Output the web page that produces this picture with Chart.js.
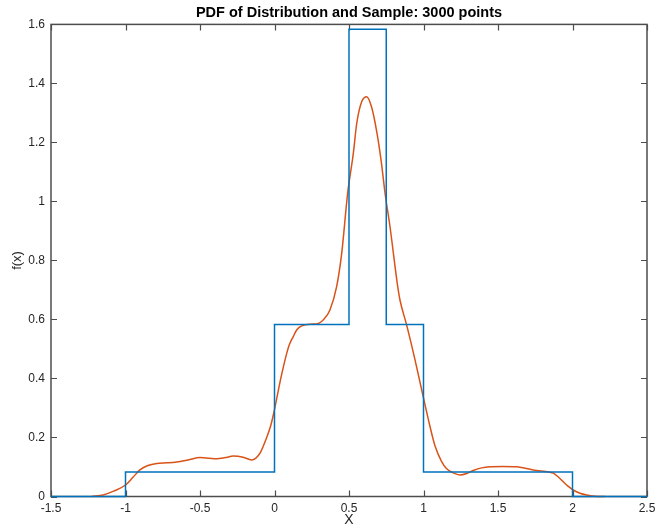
<!DOCTYPE html>
<html>
<head>
<meta charset="utf-8">
<script src="https://cdn.jsdelivr.net/npm/chart.js@4/dist/chart.umd.min.js"></script>
<style>
html,body{margin:0;padding:0;background:#fff;}
canvas{display:block;}
</style>
</head>
<body>
<canvas id="c" width="658" height="530"></canvas>
<script>
// True distribution: piecewise constant pdf (value holds from edge to next edge)
const pdfEdges  = [-1.5, -1, 0, 0.5, 0.75, 1, 2, 2.5];
const pdfValues = [0, 0.0833, 0.5833, 1.5833, 0.5833, 0.0833, 0, 0];

// Sample kernel density estimate
const kdeX = [-1.227,-1.15,-1.08,-1.0,-0.95,-0.903,-0.85,-0.79,-0.72,-0.657,-0.58,-0.5,-0.44,-0.388,-0.33,-0.277,-0.21,-0.153,-0.125,-0.097,-0.06,-0.027,-0.005,0.02,0.04,0.06,0.082,0.1,0.126,0.15,0.182,0.238,0.283,0.33,0.372,0.417,0.451,0.491,0.529,0.552,0.585,0.619,0.652,0.686,0.715,0.742,0.775,0.827,0.842,0.887,0.94,0.988,1.04,1.077,1.12,1.152,1.2,1.245,1.29,1.334,1.39,1.446,1.53,1.626,1.7,1.76,1.82,1.871,1.905,1.938,1.97,2.005,2.05,2.095,2.15,2.218];
const kdeY = [0,0.005,0.018,0.039,0.065,0.09,0.105,0.112,0.114,0.117,0.124,0.132,0.13,0.128,0.132,0.137,0.133,0.124,0.13,0.147,0.19,0.237,0.283,0.345,0.395,0.44,0.485,0.515,0.542,0.565,0.578,0.584,0.585,0.6,0.632,0.711,0.824,1.028,1.163,1.265,1.338,1.355,1.319,1.237,1.141,1.028,0.915,0.711,0.666,0.581,0.47,0.361,0.245,0.172,0.12,0.096,0.08,0.073,0.078,0.088,0.097,0.101,0.102,0.101,0.094,0.088,0.085,0.079,0.066,0.05,0.035,0.022,0.011,0.005,0.001,0];

const titleText = 'PDF of Distribution and Sample: 3000 points';
const xLabel = 'X';
const yLabel = 'f(x)';

const AXIS = '#4d4d4d';
const TEXT = '#262626';
const FONT = "'Liberation Sans', Arial, Helvetica, sans-serif";

const fmt = v => String(parseFloat(Number(v).toFixed(4)));

const boxTicks = {
  id: 'boxTicks',
  beforeDatasetsDraw(chart) {
    const {ctx, chartArea: a, scales: {x, y}} = chart;
    const L = 6;
    ctx.save();
    ctx.strokeStyle = AXIS;
    ctx.lineWidth = 1.2;
    ctx.beginPath();
    x.ticks.forEach(t => {
      const px = Math.round(x.getPixelForValue(t.value)) + 0.5;
      ctx.moveTo(px, a.bottom); ctx.lineTo(px, a.bottom - L);
      ctx.moveTo(px, a.top); ctx.lineTo(px, a.top + L);
    });
    y.ticks.forEach(t => {
      const py = Math.round(y.getPixelForValue(t.value)) + 0.5;
      ctx.moveTo(a.left, py); ctx.lineTo(a.left + L, py);
      ctx.moveTo(a.right, py); ctx.lineTo(a.right - L, py);
    });
    ctx.stroke();
    ctx.lineWidth = 1.5;
    ctx.strokeRect(a.left, a.top, a.right - a.left, a.bottom - a.top);
    ctx.restore();
  }
};

new Chart(document.getElementById('c'), {
  type: 'scatter',
  data: {
    datasets: [
      {
        label: 'pdf',
        data: pdfEdges.map((e, i) => ({x: e, y: pdfValues[i]})),
        showLine: true,
        stepped: 'before',
        borderColor: '#0072BD',
        borderWidth: 1.5,
        pointRadius: 0,
        fill: false,
        clip: 4
      },
      {
        label: 'sample',
        data: kdeX.map((v, i) => ({x: v, y: kdeY[i]})),
        showLine: true,
        cubicInterpolationMode: 'monotone',
        borderColor: '#D95319',
        borderWidth: 1.5,
        pointRadius: 0,
        fill: false,
        clip: 4
      }
    ]
  },
  options: {
    responsive: false,
    devicePixelRatio: 1,
    animation: false,
    layout: {padding: {left: 0, right: 11, top: 0, bottom: 0}},
    plugins: {
      legend: {display: false},
      tooltip: {enabled: false},
      title: {
        display: true,
        fullSize: false,
        text: titleText,
        color: '#000',
        font: {family: FONT, size: 14.5, weight: 'bold', lineHeight: 1.2},
        padding: {top: 4, bottom: 3}
      }
    },
    scales: {
      x: {
        type: 'linear',
        min: -1.5, max: 2.5,
        grid: {display: false, drawTicks: false},
        border: {display: false},
        ticks: {stepSize: 0.5, color: TEXT, padding: 5, font: {family: FONT, size: 12}, maxRotation: 0, callback: fmt},
        title: {display: true, text: xLabel, color: TEXT, font: {family: FONT, size: 14}, padding: {top: 0, bottom: 1}},
        afterFit(s) { s.height = 33.5; s.paddingLeft = 0; s.paddingRight = 0; }
      },
      y: {
        type: 'linear',
        min: 0, max: 1.6,
        grid: {display: false, drawTicks: false},
        border: {display: false},
        ticks: {stepSize: 0.2, color: TEXT, padding: 6, font: {family: FONT, size: 12}, callback: fmt},
        title: {display: true, text: yLabel, color: TEXT, font: {family: FONT, size: 13}, padding: {top: 10, bottom: 0}},
        afterFit(s) { s.width = 51; s.paddingTop = 0; s.paddingBottom = 0; }
      }
    }
  },
  plugins: [boxTicks]
});
</script>
</body>
</html>
